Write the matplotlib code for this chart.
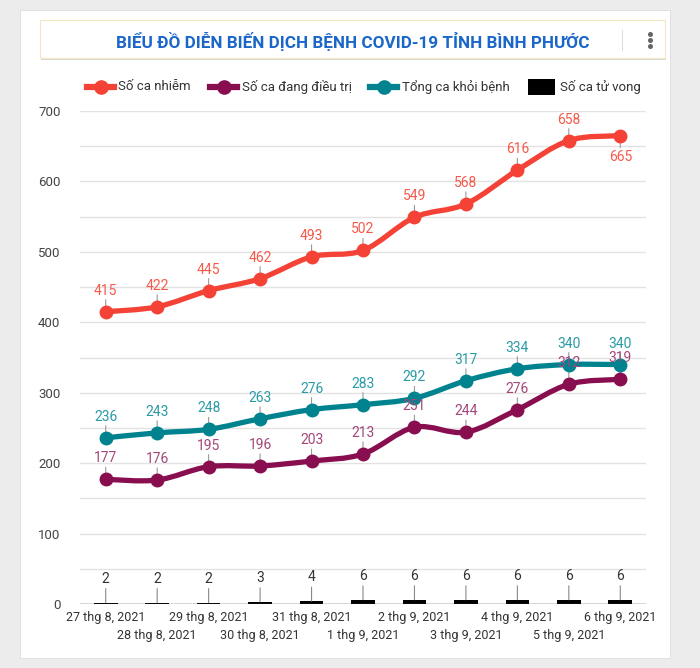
import matplotlib
matplotlib.use("Agg")
import matplotlib.pyplot as plt
import numpy as np
from matplotlib.path import Path
from matplotlib.patches import PathPatch, Rectangle
from matplotlib.lines import Line2D

plt.rcParams['font.family'] = ['Roboto', 'DejaVu Sans']

dates = ["27 thg 8, 2021", "28 thg 8, 2021", "29 thg 8, 2021", "30 thg 8, 2021",
         "31 thg 8, 2021", "1 thg 9, 2021", "2 thg 9, 2021", "3 thg 9, 2021",
         "4 thg 9, 2021", "5 thg 9, 2021", "6 thg 9, 2021"]
infected = [415, 422, 445, 462, 493, 502, 549, 568, 616, 658, 665]
treating = [177, 176, 195, 196, 203, 213, 251, 244, 276, 312, 319]
recovered = [236, 243, 248, 263, 276, 283, 292, 317, 334, 340, 340]
deaths = [2, 2, 2, 3, 4, 6, 6, 6, 6, 6, 6]

series_names = ["Số ca nhiễm", "Số ca đang điều trị", "Tổng ca khỏi bệnh", "Số ca tử vong"]
title = "BIỂU ĐỒ DIỄN BIẾN DỊCH BỆNH COVID-19 TỈNH BÌNH PHƯỚC"
yticks = [0, 100, 200, 300, 400, 500, 600, 700]

c_red = "#f44336"
c_purple = "#880e4f"
c_teal = "#00838f"
c_black = "#000000"
lab_red = "#f5594a"
lab_purple = "#a3467a"
lab_teal = "#2a9ba5"

W, H = 700, 668
fig = plt.figure(figsize=(W / 100, H / 100), dpi=100)
fig.patch.set_facecolor("#ececec")

# card
card = Rectangle((20 / W, 1 - 658 / H), 650 / W, 648 / H, transform=fig.transFigure,
                 facecolor="white", edgecolor="#dddddd", linewidth=0.6, zorder=-10)
fig.patches.append(card)
sh = Rectangle((41 / W, 1 - 60 / H), 625 / W, 38 / H, transform=fig.transFigure,
               facecolor="#d8d8d8", edgecolor="none", zorder=-9)
fig.patches.append(sh)
tb = Rectangle((40 / W, 1 - 58 / H), 625 / W, 38 / H, transform=fig.transFigure,
               facecolor="white", edgecolor="#f3e6c0", linewidth=0.8, zorder=-8)
fig.patches.append(tb)
fig.text(353 / W, 1 - 41 / H, title, ha="center", va="center", fontsize=12.3,
         fontweight="bold", color="#1b66c9", zorder=3)
fig.lines.append(Line2D([622 / W, 622 / W], [1 - 30 / H, 1 - 50 / H], transform=fig.transFigure,
                        color="#dddddd", linewidth=0.8, zorder=3))
for dy in (-6, 0, 6):
    fig.lines.append(Line2D([650 / W], [1 - (40 + dy) / H], transform=fig.transFigure, marker="o",
                            markersize=2.6, color="#666666", linestyle="none", zorder=3))

# legend (manual)
leg_y = 1 - 87 / H
items = [(87, 118, c_red, "line"), (210, 242, c_purple, "line"), (370, 402, c_teal, "line"),
         (528, 560, c_black, "box")]
for (x0, xt, col, kind), name in zip(items, series_names):
    if kind == "line":
        fig.lines.append(Line2D([x0 / W, (x0 + 27) / W], [leg_y, leg_y], transform=fig.transFigure,
                                color=col, linewidth=4.5, zorder=3))
        fig.lines.append(Line2D([(x0 + 13.5) / W], [leg_y], transform=fig.transFigure, marker="o",
                                markersize=9.5, color=col, zorder=3))
    else:
        fig.patches.append(Rectangle((x0 / W, leg_y - 8 / H), 27 / W, 16 / H,
                                     transform=fig.transFigure, facecolor=col, zorder=3))
    fig.text(xt / W, leg_y, name, ha="left", va="center", fontsize=9.5, color="#333333", zorder=3)

# axes
ax = fig.add_axes([80 / W, 1 - 604 / H, 566 / W, 493 / H])
ax.set_zorder(5)
ax.patch.set_alpha(0)
x = np.arange(len(dates))
ax.set_xlim(-0.5, len(dates) - 0.5)
ax.set_ylim(0, 700)
for v in range(50, 701, 50):
    ax.axhline(v, color="#e3e3e3", linewidth=1, zorder=0)
ax.axhline(0, color="#333333", linewidth=1, zorder=4)
for s in ax.spines.values():
    s.set_visible(False)
ax.set_yticks(yticks)
ax.set_yticklabels([str(v) for v in yticks], fontsize=9.5, color="#444444")
ax.tick_params(axis="y", length=0, pad=14)
ax.set_xticks(x)
ax.set_xticklabels([])
ax.tick_params(axis="x", length=0)
for i, d in enumerate(dates):
    off = -14 if i % 2 == 0 else -32
    ax.annotate(d, (i, 0), xytext=(0, off), textcoords="offset pixels",
                ha="center", va="center", fontsize=9, color="#333333", annotation_clip=False)


def smooth_path(xs, ys, t=0.5):
    xs = np.asarray(xs, float)
    ys = np.asarray(ys, float)
    n = len(xs)
    verts = [(xs[0], ys[0])]
    codes = [Path.MOVETO]
    for i in range(n - 1):
        p0 = (xs[max(i - 1, 0)], ys[max(i - 1, 0)])
        p1 = (xs[i], ys[i])
        p2 = (xs[i + 1], ys[i + 1])
        p3 = (xs[min(i + 2, n - 1)], ys[min(i + 2, n - 1)])
        c1 = (p1[0] + (p2[0] - p0[0]) * t / 3, p1[1] + (p2[1] - p0[1]) * t / 3)
        c2 = (p2[0] - (p3[0] - p1[0]) * t / 3, p2[1] - (p3[1] - p1[1]) * t / 3)
        verts += [c1, c2, p2]
        codes += [Path.CURVE4] * 3
    return Path(verts, codes)


# bars
ax.bar(x, deaths, width=0.46, color=c_black, zorder=3)
for i, v in enumerate(deaths):
    ax.annotate("", xy=(i, v), xytext=(0, 14), textcoords="offset pixels",
                arrowprops=dict(arrowstyle="-", color="#888888", lw=0.8, shrinkA=0, shrinkB=0))
    ax.annotate(str(v), (i, v), xytext=(0, 24), textcoords="offset pixels", ha="center",
                va="center", fontsize=10, color="#333333")

lines = [(infected, c_red, lab_red), (recovered, c_teal, lab_teal),
         (treating, c_purple, lab_purple)]
for ys, col, lcol in lines:
    ax.add_patch(PathPatch(smooth_path(x, ys), facecolor="none", edgecolor=col, lw=3.8,
                           zorder=5, capstyle="round", joinstyle="round"))
    ax.plot(x, ys, "o", color=col, markersize=9, zorder=6)
ymax = ax.get_ylim()[1]
for ys, col, lcol in lines:
    for i, v in enumerate(ys):
        # place label below the point if it would not fit inside the plot area
        sign = -1 if v > ymax - 40 else 1
        ax.annotate("", xy=(i, v), xytext=(0, sign * 12), textcoords="offset pixels",
                    arrowprops=dict(arrowstyle="-", color="#999999", lw=0.8, shrinkA=0, shrinkB=0),
                    zorder=4)
        ax.annotate(str(v), (i, v), xytext=(0, sign * 21), textcoords="offset pixels", ha="center",
                    va="center", fontsize=10, color=lcol, zorder=7)

fig.savefig("out.png", dpi=100, facecolor=fig.get_facecolor())
